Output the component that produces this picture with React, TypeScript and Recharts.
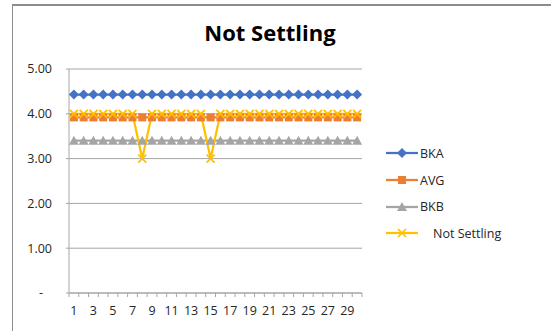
import { LineChart, Line, XAxis, YAxis, CartesianGrid } from 'recharts'

// ─── Data ─────────────────────────────────────────────────────────────────────

const days = [1, 2, 3, 4, 5, 6, 7, 8, 9, 10, 11, 12, 13, 14, 15, 16, 17, 18, 19, 20, 21, 22, 23, 24, 25, 26, 27, 28, 29, 30]

const bka = [4.43, 4.43, 4.43, 4.43, 4.43, 4.43, 4.43, 4.43, 4.43, 4.43, 4.43, 4.43, 4.43, 4.43, 4.43, 4.43, 4.43, 4.43, 4.43, 4.43, 4.43, 4.43, 4.43, 4.43, 4.43, 4.43, 4.43, 4.43, 4.43, 4.43]
const avg = [3.92, 3.92, 3.92, 3.92, 3.92, 3.92, 3.92, 3.92, 3.92, 3.92, 3.92, 3.92, 3.92, 3.92, 3.92, 3.92, 3.92, 3.92, 3.92, 3.92, 3.92, 3.92, 3.92, 3.92, 3.92, 3.92, 3.92, 3.92, 3.92, 3.92]
const bkb = [3.4, 3.4, 3.4, 3.4, 3.4, 3.4, 3.4, 3.4, 3.4, 3.4, 3.4, 3.4, 3.4, 3.4, 3.4, 3.4, 3.4, 3.4, 3.4, 3.4, 3.4, 3.4, 3.4, 3.4, 3.4, 3.4, 3.4, 3.4, 3.4, 3.4]
const notSettling = [4, 4, 4, 4, 4, 4, 4, 3, 4, 4, 4, 4, 4, 4, 3, 4, 4, 4, 4, 4, 4, 4, 4, 4, 4, 4, 4, 4, 4, 4]

const yTicks = [0, 1, 2, 3, 4, 5]
// tick marks sit between days, labels on every other day
const xTicks = [0.5, 1, 1.5, 2, 2.5, 3, 3.5, 4, 4.5, 5, 5.5, 6, 6.5, 7, 7.5, 8, 8.5, 9, 9.5, 10, 10.5, 11, 11.5, 12, 12.5, 13, 13.5, 14, 14.5, 15, 15.5, 16, 16.5, 17, 17.5, 18, 18.5, 19, 19.5, 20, 20.5, 21, 21.5, 22, 22.5, 23, 23.5, 24, 24.5, 25, 25.5, 26, 26.5, 27, 27.5, 28, 28.5, 29, 29.5, 30, 30.5]

const rows = days.map((d, i) => ({ day: d, bka: bka[i], avg: avg[i], bkb: bkb[i], ns: notSettling[i] }))

// ─── Styles ───────────────────────────────────────────────────────────────────

const FONT = '"Open Sans", "Liberation Sans", sans-serif'
const AXIS = '#a6a6a6'
const TEXT = '#262626'

type Shape = 'diamond' | 'square' | 'triangle' | 'x'

const series: { key: string; name: string; color: string; shape: Shape }[] = [
  { key: 'bka', name: 'BKA', color: '#4472C4', shape: 'diamond' },
  { key: 'avg', name: 'AVG', color: '#ED7D31', shape: 'square' },
  { key: 'bkb', name: 'BKB', color: '#A5A5A5', shape: 'triangle' },
  { key: 'ns', name: 'Not Settling', color: '#FFC000', shape: 'x' },
]

function marker(shape: Shape, cx: number, cy: number, color: string, key?: string) {
  if (shape === 'diamond') {
    return <path key={key} d={`M${cx},${cy - 5}L${cx + 5},${cy}L${cx},${cy + 5}L${cx - 5},${cy}Z`} fill={color} />
  }
  if (shape === 'square') {
    return <rect key={key} x={cx - 4} y={cy - 4} width={8} height={8} fill={color} />
  }
  if (shape === 'triangle') {
    return <path key={key} d={`M${cx},${cy - 5}L${cx + 5},${cy + 4}L${cx - 5},${cy + 4}Z`} fill={color} />
  }
  return (
    <path
      key={key}
      d={`M${cx - 4},${cy - 4}L${cx + 4},${cy + 4}M${cx + 4},${cy - 4}L${cx - 4},${cy + 4}`}
      stroke={color}
      strokeWidth={1.75}
      fill="none"
    />
  )
}

function dotFor(s: (typeof series)[number]) {
  return (p: { cx?: number; cy?: number; index?: number }) =>
    marker(s.shape, p.cx ?? 0, p.cy ?? 0, s.color, `${s.key}-${p.index}`)
}

function XTick(props: { x?: number; y?: number; payload?: { value: number } }) {
  const { x = 0, y = 0, payload } = props
  const v = payload?.value ?? 0
  if (v % 1 !== 0) {
    return <line x1={x} y1={y} x2={x} y2={y + 4} stroke={AXIS} />
  }
  if (v % 2 === 1) {
    return (
      <text x={x} y={y + 13} dy="0.71em" textAnchor="middle" fontSize={12.5} fontFamily={FONT} fill={TEXT}>
        {v}
      </text>
    )
  }
  return <g />
}

function YTick(props: { x?: number; y?: number; payload?: { value: number } }) {
  const { x = 0, y = 0, payload } = props
  const v = payload?.value ?? 0
  return (
    <text x={v === 0 ? x - 9 : x} y={y} dy="0.35em" textAnchor="end" fontSize={12.5} fontFamily={FONT} fill={TEXT}>
      {v === 0 ? '-' : v.toFixed(2)}
    </text>
  )
}

// ─── Component ────────────────────────────────────────────────────────────────

export default function App() {
  return (
    <div style={{ position: 'absolute', left: 0, top: 0, width: 551, height: 331, background: '#fff', overflow: 'hidden' }}>
      <div
        style={{
          position: 'absolute',
          left: 12,
          top: 4,
          width: 560,
          height: 340,
          borderTop: '2px solid #8c8c8c',
          borderLeft: '1px solid #8c8c8c',
        }}
      />
      <div
        style={{
          position: 'absolute',
          left: 0,
          top: 21,
          width: 540,
          textAlign: 'center',
          fontFamily: FONT,
          fontWeight: 700,
          fontSize: 22,
          lineHeight: '22px',
          color: '#000',
        }}
      >
        Not Settling
      </div>

      <div style={{ position: 'absolute', left: 0, top: 0 }}>
        <LineChart width={551} height={331} data={rows} margin={{ top: 69, right: 189, bottom: 8, left: 0 }}>
          <CartesianGrid vertical={false} stroke={AXIS} />
          <XAxis
            dataKey="day"
            type="number"
            domain={[0.5, 30.5]}
            ticks={xTicks}
            interval={0}
            height={30}
            tickSize={0}
            tickMargin={0}
            tickLine={false}
            axisLine={{ stroke: AXIS }}
            tick={XTick}
          />
          <YAxis
            domain={[0, 5]}
            ticks={yTicks}
            interval={0}
            width={69}
            tickSize={3}
            tickMargin={14}
            tickLine={{ stroke: AXIS }}
            axisLine={{ stroke: AXIS }}
            tick={YTick}
          />
          {series.map((s) => (
            <Line
              key={s.key}
              dataKey={s.key}
              name={s.name}
              stroke={s.color}
              strokeWidth={2.25}
              dot={dotFor(s)}
              activeDot={false}
              isAnimationActive={false}
            />
          ))}
        </LineChart>
      </div>

      <div style={{ position: 'absolute', left: 386, top: 140, fontFamily: FONT, fontSize: 12.5, color: TEXT }}>
        {series.map((s) => (
          <div key={s.key} style={{ display: 'flex', alignItems: 'center', height: 26.7 }}>
            <svg width={32} height={12}>
              <line x1={0} y1={6} x2={32} y2={6} stroke={s.color} strokeWidth={2.25} />
              {marker(s.shape, 16, 6, s.color)}
            </svg>
            <span style={{ marginLeft: s.shape === 'x' ? 15 : 2 }}>{s.name}</span>
          </div>
        ))}
      </div>
    </div>
  )
}
